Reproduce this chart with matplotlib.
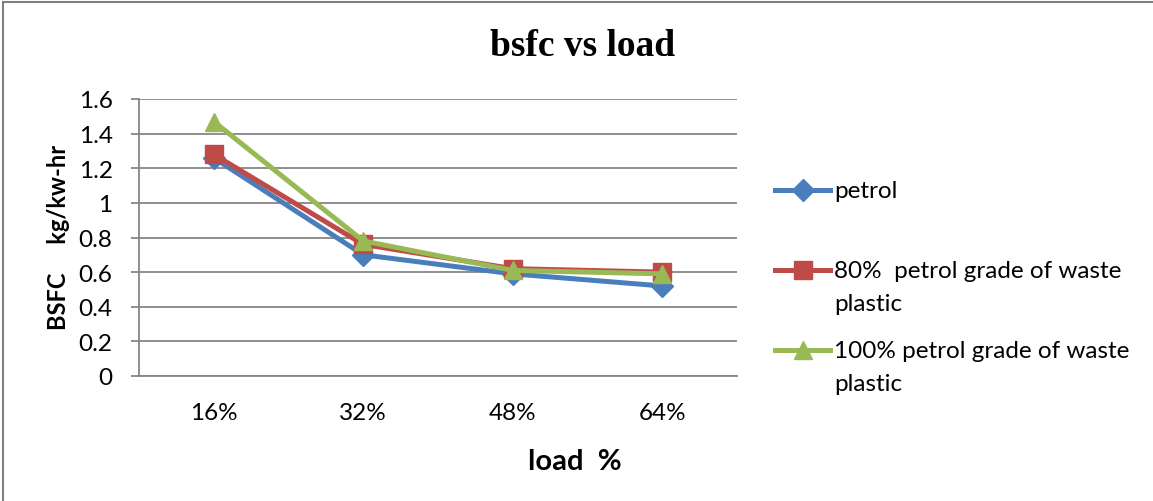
import matplotlib
matplotlib.use("Agg")
import matplotlib.pyplot as plt
from matplotlib.lines import Line2D

# data
loads = ["16%", "32%", "48%", "64%"]
petrol = [1.26, 0.70, 0.59, 0.52]
petrol_80 = [1.28, 0.76, 0.62, 0.60]
petrol_100 = [1.47, 0.78, 0.61, 0.59]
series_names = ["petrol", "80%  petrol grade of waste\nplastic",
                "100% petrol grade of waste\nplastic"]

colors = ["#4A7EBB", "#BE4B48", "#98B954"]
markers = ["D", "s", "^"]
msizes = [11, 13, 13]

plt.rcParams['font.family'] = ['Lato', 'DejaVu Sans']

fig = plt.figure(figsize=(11.53, 5.02), dpi=100)
W, H = 1153, 502
ax = fig.add_axes([139 / W, 1 - 377 / H, (737 - 139) / W, (377 - 100) / H])

x = range(len(loads))
for vals, c, m, ms in zip([petrol, petrol_80, petrol_100], colors, markers, msizes):
    ax.plot(x, vals, color=c, lw=3.6, marker=m, markersize=ms, zorder=3)

ax.set_xlim(-0.5, len(loads) - 0.5)
ax.set_ylim(0, 1.6)
ax.set_yticks([0, 0.2, 0.4, 0.6, 0.8, 1.0, 1.2, 1.4, 1.6])
ax.set_yticklabels(["0", "0.2", "0.4", "0.6", "0.8", "1", "1.2", "1.4", "1.6"])
ax.set_xticks(list(x))
ax.set_xticklabels(loads)
ax.grid(axis='y', color='#868686', lw=1.3)
ax.set_axisbelow(True)
for s in ['top', 'right']:
    ax.spines[s].set_visible(False)
for s in ['left', 'bottom']:
    ax.spines[s].set_color('#868686')
    ax.spines[s].set_linewidth(1.3)
ax.tick_params(axis='y', length=6, width=1.3, color='#868686', pad=13, labelsize=17.5)
ax.tick_params(axis='x', length=0, pad=19, labelsize=17.5)

fig.text(583 / W, 1 - 47 / H, "bsfc vs load", family='Liberation Serif',
         weight='bold', fontsize=27, ha='center', va='center')
fig.text(575 / W, 1 - 462 / H, "load  %", weight='bold', fontsize=21,
         ha='center', va='center')
fig.text(58 / W, 1 - 237 / H, "BSFC     kg/kw-hr", weight='bold', fontsize=17,
         rotation=90, ha='center', va='center')

# legend drawn by hand so the key sits on the first line of each label
leg_y = [191, 271, 351]
for name, c, m, ms, yy in zip(series_names, colors, markers, msizes, leg_y):
    fy = 1 - yy / H
    fig.add_artist(Line2D([775 / W, 830 / W], [fy, fy], color=c, lw=3.6,
                          transform=fig.transFigure))
    fig.add_artist(Line2D([802.5 / W], [fy], color=c, marker=m, markersize=ms,
                          transform=fig.transFigure))
    fig.text(834 / W, fy + 10 / H, name, fontsize=17.5, ha='left', va='top',
             linespacing=1.7)

# outer chart frame (left and top edges visible)
fig.add_artist(Line2D([3 / W, 3 / W], [0, 1 - 3 / H], color='#7f7f7f', lw=1.5,
                      transform=fig.transFigure))
fig.add_artist(Line2D([3 / W, 1], [1 - 3 / H, 1 - 3 / H], color='#7f7f7f', lw=1.5,
                      transform=fig.transFigure))

fig.savefig("out.png", dpi=100)
